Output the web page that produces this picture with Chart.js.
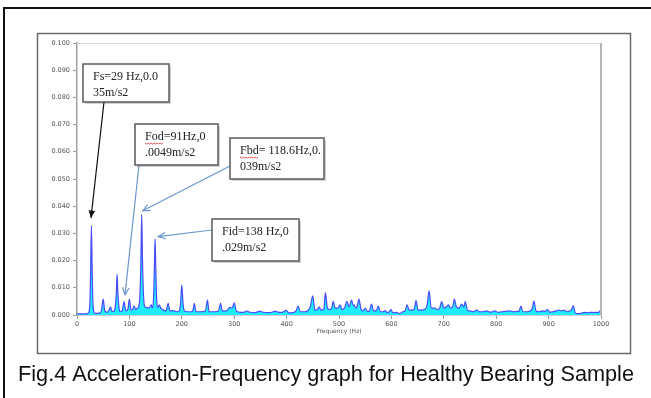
<!DOCTYPE html>
<html>
<head>
<meta charset="utf-8">
<script src="https://cdn.jsdelivr.net/npm/chart.js@4/dist/chart.umd.min.js"></script>
<style>
  html, body { margin: 0; padding: 0; background: #fff; }
  #wrap { position: relative; width: 651px; height: 398px; }
  canvas { display: block; }
</style>
</head>
<body>
<div id="wrap"><canvas id="c" width="651" height="398"></canvas></div>
<script>
// ---- data ----
const freqHz = [0,10,20,22,24.5,26,27.5,29,30.5,33,35,44,47,50,53,58,62,64,67,71,73,75,76.5,78,80,82,86,90,93,97,100,103,106,109,112,115,117.5,120,122,123.5,125,127,129.5,133,136,139,142,143.5,146,147.5,149,150.5,152,154.5,157,160,165,170,174,177,184,190,195,197.5,200,202.5,205,210,218,221,224,227,235,245,249,252,262,270,274,277,285,292,296,300,304,312,318,324,330,340,349,355,365,372,378,385,392,399,404,412,418,422,426,434,440,445,450,454,459,462,466,471,474,478,482,486,489,493,498,502,506,511,515,519,524,527,529,532,535,538,542,546,550,554,558,562,566,571,575,579,584,588,592,596,599,603,610,615,622,626,630,634,640,644,647,651,657,663,668,672,676,683,688,692,696,700,705,709,713,717,720,724,729,734,738,741,745,750,756,763,768,775,782,788,793,798,803,810,818,826,833,840,844,847,851,858,865,869,872,876,882,888,893,898,902,908,915,920,924,930,935,940,944,947,951,956,962,968,975,980,986,990,995,998,1000];
const accel = [0.0004,0.0004,0.0005,0.0008,0.004,0.016,0.033,0.016,0.004,0.0008,0.0006,0.0008,0.002,0.0058,0.0015,0.001,0.0022,0.003,0.0012,0.0015,0.003,0.008,0.015,0.008,0.003,0.0012,0.0015,0.0049,0.0015,0.002,0.0058,0.0018,0.002,0.0033,0.002,0.0025,0.003,0.007,0.02,0.037,0.02,0.007,0.003,0.0028,0.0025,0.003,0.0037,0.0025,0.006,0.016,0.028,0.016,0.006,0.0028,0.0037,0.0025,0.0018,0.0015,0.0043,0.0015,0.0016,0.0012,0.0015,0.004,0.011,0.004,0.0015,0.0012,0.0012,0.0015,0.0043,0.0012,0.0012,0.0015,0.0055,0.0012,0.0012,0.0015,0.0043,0.0015,0.0015,0.0028,0.0025,0.0045,0.0015,0.001,0.001,0.0014,0.001,0.0009,0.0014,0.001,0.0009,0.001,0.0014,0.001,0.001,0.0017,0.0008,0.0009,0.0015,0.0033,0.0012,0.0012,0.0015,0.003,0.007,0.0018,0.002,0.003,0.0018,0.002,0.0082,0.0025,0.002,0.0025,0.005,0.0025,0.0025,0.0037,0.002,0.0028,0.005,0.003,0.0055,0.0035,0.0037,0.0025,0.0035,0.0058,0.0022,0.0015,0.0025,0.0013,0.0015,0.004,0.0015,0.0015,0.0033,0.0012,0.0012,0.0016,0.0009,0.0012,0.002,0.0008,0.001,0.0005,0.0012,0.0015,0.0037,0.0018,0.0018,0.0025,0.0053,0.0018,0.0018,0.002,0.0035,0.0089,0.0025,0.0025,0.002,0.0025,0.0049,0.0025,0.003,0.0037,0.0025,0.003,0.0058,0.003,0.0025,0.004,0.003,0.0049,0.0018,0.0015,0.0012,0.0018,0.0012,0.0012,0.0015,0.001,0.0012,0.0015,0.001,0.0012,0.0013,0.0015,0.0012,0.0013,0.0015,0.0033,0.0012,0.0012,0.0015,0.0025,0.0051,0.0015,0.0012,0.0015,0.0013,0.002,0.001,0.0012,0.0015,0.0018,0.0015,0.0018,0.0012,0.0015,0.002,0.0034,0.0008,0.0005,0.0006,0.001,0.0008,0.001,0.0009,0.001,0.0009,0.0015,0.0018];
const xTicks = [0,100,200,300,400,500,600,700,800,900,1000];
const yTicks = [0,0.01,0.02,0.03,0.04,0.05,0.06,0.07,0.08,0.09,0.1];
const xTitle = 'Frequency (Hz)';
const caption = 'Fig.4 Acceleration-Frequency graph for Healthy Bearing Sample';
// callouts: label lines and the point (Hz, m/s2) each arrow touches
const calloutLines = [
  ['Fs=29 Hz,0.0', '35m/s2'],
  ['Fod=91Hz,0', '.0049m/s2'],
  ['Fbd= 118.6Hz,0.', '039m/s2'],
  ['Fid=138 Hz,0', '.029m/s2']
];
const calloutTipHz = [26.7, 91.6, 125.4, 155];
const calloutTipVal = [0.0357, 0.0074, 0.0383, 0.0288];

const points = freqHz.map((f, i) => ({x: f, y: accel[i]}));

// box geometry in page pixels (layout only)
const boxes = [
  {x: 83, y: 64, w: 86, h: 38, from: [104, 102], color: '#111', filledHead: true, squiggle: 0},
  {x: 135, y: 124, w: 83, h: 41, from: [139, 165], color: '#6d97cf', filledHead: false, squiggle: 3},
  {x: 230, y: 138, w: 94, h: 41, from: [230, 166], color: '#6d97cf', filledHead: false, squiggle: 3},
  {x: 212, y: 219, w: 87, h: 42, from: [212, 230], color: '#6d97cf', filledHead: false, squiggle: 0}
];

const decor = {
  id: 'decor',
  beforeDraw(chart) {
    const ctx = chart.ctx;
    ctx.save();
    ctx.fillStyle = '#fff';
    ctx.fillRect(0, 0, chart.width, chart.height);
    ctx.strokeStyle = '#111';
    ctx.lineWidth = 2;
    ctx.beginPath();
    ctx.moveTo(4, 398); ctx.lineTo(4, 8); ctx.lineTo(651, 8);
    ctx.stroke();
    ctx.strokeStyle = '#6a6a6a';
    ctx.lineWidth = 1.5;
    ctx.strokeRect(37.5, 33.5, 593, 320);
    ctx.restore();
  },
  afterDatasetsDraw(chart) {
    const ctx = chart.ctx;
    const a = chart.chartArea;
    const xs = chart.scales.x, ys = chart.scales.y;
    ctx.save();
    ctx.strokeStyle = '#d8d8d8';
    ctx.lineWidth = 1;
    ctx.beginPath();
    ctx.moveTo(a.left, a.top + 0.5); ctx.lineTo(a.right, a.top + 0.5);
    ctx.stroke();
    ctx.strokeStyle = '#b5b5b5';
    ctx.lineWidth = 2;
    ctx.beginPath();
    ctx.moveTo(a.right, a.top); ctx.lineTo(a.right, a.bottom);
    ctx.stroke();

    boxes.forEach((b, i) => {
      const tx = xs.getPixelForValue(calloutTipHz[i]);
      const ty = ys.getPixelForValue(calloutTipVal[i]);
      const [fx, fy] = b.from;
      ctx.strokeStyle = b.color;
      ctx.fillStyle = b.color;
      ctx.lineWidth = 1.2;
      ctx.beginPath();
      ctx.moveTo(fx, fy); ctx.lineTo(tx, ty);
      ctx.stroke();
      const ang = Math.atan2(ty - fy, tx - fx);
      const L = 8, W = 0.42;
      const p1 = [tx - L * Math.cos(ang - W), ty - L * Math.sin(ang - W)];
      const p2 = [tx - L * Math.cos(ang + W), ty - L * Math.sin(ang + W)];
      ctx.beginPath();
      ctx.moveTo(p1[0], p1[1]); ctx.lineTo(tx, ty); ctx.lineTo(p2[0], p2[1]);
      if (b.filledHead) { ctx.closePath(); ctx.fill(); } else { ctx.stroke(); }

      ctx.fillStyle = 'rgba(0,0,0,0.18)';
      ctx.fillRect(b.x + 2, b.y + 2, b.w, b.h);
      ctx.fillStyle = '#fff';
      ctx.fillRect(b.x, b.y, b.w, b.h);
      ctx.strokeStyle = '#5a5a5a';
      ctx.lineWidth = 1.5;
      ctx.strokeRect(b.x, b.y, b.w, b.h);
      ctx.fillStyle = '#222';
      ctx.font = '12px "Liberation Serif", "Times New Roman", serif';
      ctx.textBaseline = 'middle';
      ctx.textAlign = 'left';
      const lines = calloutLines[i];
      ctx.fillText(lines[0], b.x + 10, b.y + 12.5);
      ctx.fillText(lines[1], b.x + 10, b.y + 28.5);
      if (b.squiggle) {
        const w = ctx.measureText(lines[0].slice(0, b.squiggle)).width;
        ctx.strokeStyle = '#e03030';
        ctx.lineWidth = 0.8;
        ctx.beginPath();
        const y0 = b.y + 19;
        for (let k = 0; k <= w; k += 1.5) {
          const yy = y0 + ((Math.round(k / 1.5) % 2) ? 1 : 0);
          if (k === 0) ctx.moveTo(b.x + 10 + k, yy); else ctx.lineTo(b.x + 10 + k, yy);
        }
        ctx.stroke();
      }
    });

    ctx.fillStyle = '#111';
    let fs = 18;
    ctx.font = fs + 'px "Liberation Sans", Arial, sans-serif';
    const mw = ctx.measureText(caption).width;
    fs = fs * 616 / mw;
    ctx.font = fs.toFixed(2) + 'px "Liberation Sans", Arial, sans-serif';
    ctx.textAlign = 'center';
    ctx.textBaseline = 'middle';
    ctx.fillText(caption, 326, 375);
    ctx.restore();
  }
};

new Chart(document.getElementById('c'), {
  type: 'line',
  data: {
    datasets: [{
      data: points,
      borderColor: '#4b4bff',
      borderWidth: 1.2,
      backgroundColor: '#20ecff',
      fill: 'origin',
      pointRadius: 0,
      cubicInterpolationMode: 'monotone'
    }]
  },
  options: {
    responsive: false,
    animation: false,
    events: [],
    layout: { padding: { left: 37, right: 50, top: 43, bottom: 63 } },
    plugins: { legend: { display: false }, tooltip: { enabled: false } },
    scales: {
      x: {
        type: 'linear',
        min: 0, max: 1000,
        afterBuildTicks: s => { s.ticks = xTicks.map(v => ({value: v})); },
        afterFit: s => { s.height = 20; },
        grid: { display: true, drawOnChartArea: false, drawTicks: true, tickLength: 4, color: '#9a9a9a' },
        border: { display: true, color: '#a0a0a0', width: 1.5 },
        ticks: { font: { size: 6.5, family: 'DejaVu Sans' }, color: '#555', padding: 1, maxRotation: 0, callback: v => String(v) },
        title: { display: true, text: xTitle, font: { size: 6, family: 'DejaVu Sans' }, color: '#555', padding: 0 }
      },
      y: {
        type: 'linear',
        min: 0, max: 0.1,
        afterBuildTicks: s => { s.ticks = yTicks.map(v => ({value: v})); },
        afterFit: s => { s.width = 40; },
        grid: { display: true, drawOnChartArea: false, drawTicks: true, tickLength: 4, color: '#9a9a9a' },
        border: { display: true, color: '#a0a0a0', width: 1.5 },
        ticks: { font: { size: 6.5, family: 'DejaVu Sans' }, color: '#555', padding: 3, callback: v => v.toFixed(3) }
      }
    }
  },
  plugins: [decor]
});
</script>
</body>
</html>
